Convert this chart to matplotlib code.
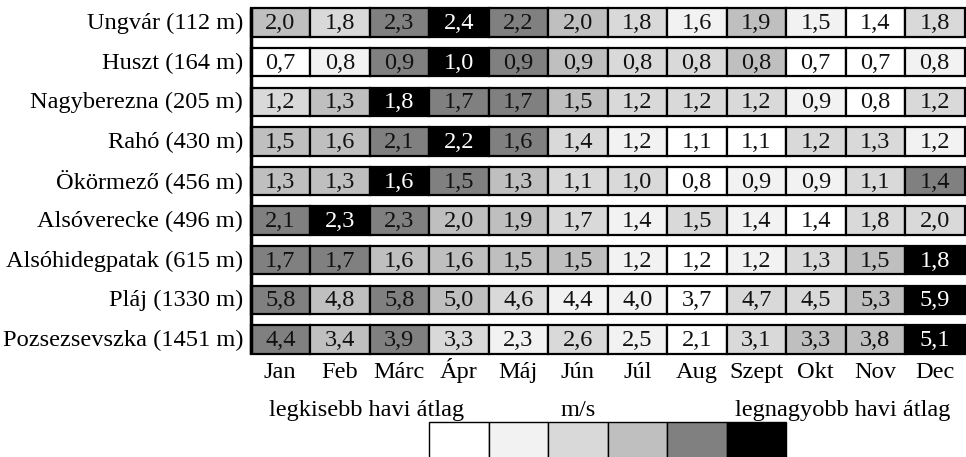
import numpy as np
import matplotlib.pyplot as plt
from matplotlib.patches import Rectangle

stations = ['Ungvár (112 m)', 'Huszt (164 m)', 'Nagyberezna (205 m)', 'Rahó (430 m)',
            'Ökörmező (456 m)', 'Alsóverecke (496 m)', 'Alsóhidegpatak (615 m)',
            'Pláj (1330 m)', 'Pozsezsevszka (1451 m)']
months = ['Jan', 'Feb', 'Márc', 'Ápr', 'Máj', 'Jún', 'Júl', 'Aug', 'Szept', 'Okt', 'Nov', 'Dec']

wind = [
    [2.0, 1.8, 2.3, 2.4, 2.2, 2.0, 1.8, 1.6, 1.9, 1.5, 1.4, 1.8],
    [0.7, 0.8, 0.9, 1.0, 0.9, 0.9, 0.8, 0.8, 0.8, 0.7, 0.7, 0.8],
    [1.2, 1.3, 1.8, 1.7, 1.7, 1.5, 1.2, 1.2, 1.2, 0.9, 0.8, 1.2],
    [1.5, 1.6, 2.1, 2.2, 1.6, 1.4, 1.2, 1.1, 1.1, 1.2, 1.3, 1.2],
    [1.3, 1.3, 1.6, 1.5, 1.3, 1.1, 1.0, 0.8, 0.9, 0.9, 1.1, 1.4],
    [2.1, 2.3, 2.3, 2.0, 1.9, 1.7, 1.4, 1.5, 1.4, 1.4, 1.8, 2.0],
    [1.7, 1.7, 1.6, 1.6, 1.5, 1.5, 1.2, 1.2, 1.2, 1.3, 1.5, 1.8],
    [5.8, 4.8, 5.8, 5.0, 4.6, 4.4, 4.0, 3.7, 4.7, 4.5, 5.3, 5.9],
    [4.4, 3.4, 3.9, 3.3, 2.3, 2.6, 2.5, 2.1, 3.1, 3.3, 3.8, 5.1],
]

# shade class of each cell (0 = smallest ... 5 = largest monthly mean)
shade = [
    [3, 2, 4, 5, 4, 3, 2, 1, 3, 1, 0, 2],
    [0, 1, 4, 5, 4, 3, 2, 2, 3, 0, 0, 1],
    [2, 3, 5, 4, 4, 3, 2, 2, 2, 1, 0, 2],
    [3, 3, 4, 5, 4, 2, 1, 0, 0, 2, 2, 1],
    [3, 3, 5, 4, 3, 2, 2, 0, 1, 1, 2, 4],
    [4, 5, 4, 3, 3, 2, 1, 2, 1, 0, 2, 2],
    [4, 4, 3, 3, 3, 3, 1, 0, 1, 2, 3, 5],
    [4, 3, 4, 3, 2, 1, 1, 0, 2, 2, 3, 5],
    [4, 3, 4, 2, 1, 2, 1, 0, 2, 3, 3, 5],
]

palette = ['#ffffff', '#f2f2f2', '#d9d9d9', '#bfbfbf', '#808080', '#000000']
legend_texts = ['legkisebb havi átlag', 'm/s', 'legnagyobb havi átlag']

plt.rcParams['font.family'] = ['Liberation Serif', 'DejaVu Serif']
fs = 17.6

fig = plt.figure(figsize=(9.66, 4.57), dpi=100)
ax = fig.add_axes([0, 0, 1, 1])

# pixel layout -> data units (1 column, 1 row pitch)
W, H = 966, 457
x0, cw = 250.5, 59.5
y0, rp = 22.5, 39.6
rh = 28.4 / rp
ax.set_xlim(-x0 / cw, (W - x0) / cw)
ax.set_ylim((H - y0) / rp, -y0 / rp)
ax.axis('off')

base = 0.17  # baseline offset below row centre
for i, st in enumerate(stations):
    for j in range(len(months)):
        s = shade[i][j]
        ax.add_patch(Rectangle((j, i - rh / 2), 1, rh, facecolor=palette[s],
                               edgecolor='black', linewidth=1.6))
        ax.text(j + 0.5, i + base, f'{wind[i][j]:.1f}'.replace('.', ','),
                ha='center', va='baseline', fontsize=fs,
                color='white' if s == 5 else '#111111')
    ax.text(-0.12, i + base, st, ha='right', va='baseline', fontsize=fs)

n = len(stations)
ax.plot([0, 0], [-rh / 2, n - 1 + rh / 2], color='black', linewidth=2.5,
        solid_capstyle='butt')

for j, m in enumerate(months):
    ax.text(j + 0.5, n - 0.02, m, ha='center', va='baseline', fontsize=fs)

# legend
ly = n + 0.94
ax.text(1.95, ly, legend_texts[0], ha='center', va='baseline', fontsize=fs)
ax.text(5.5, ly, legend_texts[1], ha='center', va='baseline', fontsize=fs)
ax.text(9.95, ly, legend_texts[2], ha='center', va='baseline', fontsize=fs)
for k, c in enumerate(palette):
    ax.add_patch(Rectangle((3 + k, n + 1.09), 1, 1.2, facecolor=c,
                           edgecolor='black', linewidth=1.0))

fig.savefig('out.png', dpi=100)
